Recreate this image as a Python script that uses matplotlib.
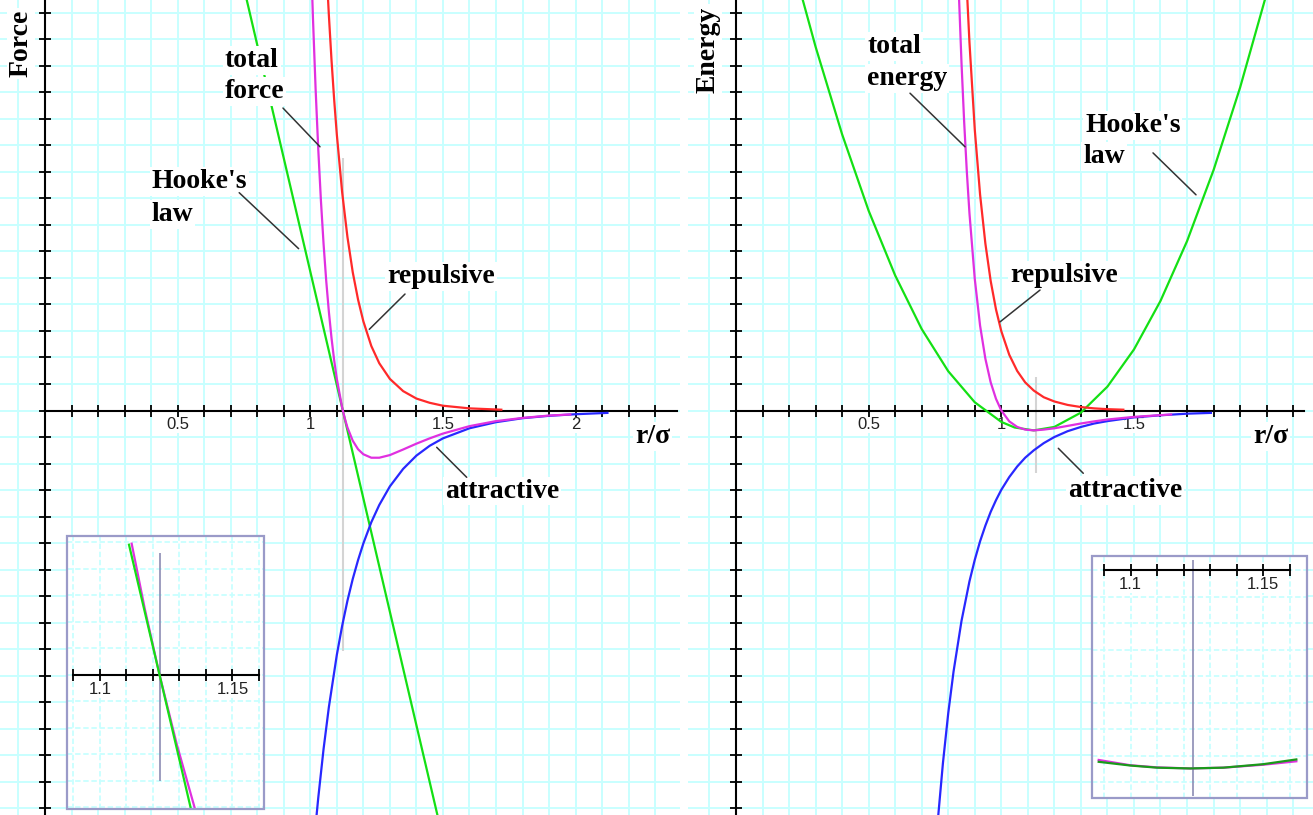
import matplotlib.pyplot as plt
import numpy as np
from matplotlib.patches import Rectangle
from matplotlib.ticker import FuncFormatter

# ---------------------------------------------------------------------------
# Values.  r is in units of sigma, y in grid divisions.
# ---------------------------------------------------------------------------

# force panel
force_rep_r = [1.06, 1.07, 1.08, 1.09, 1.10, 1.12, 1.14, 1.16, 1.18, 1.20,
               1.23, 1.26, 1.30, 1.35, 1.40, 1.45, 1.50, 1.60, 1.72]
force_rep = [16.83, 14.90, 13.20, 11.71, 10.40, 8.23, 6.54, 5.21, 4.18, 3.36,
             2.43, 1.78, 1.19, 0.73, 0.45, 0.29, 0.18, 0.08, 0.03]

force_att_r = [1.02, 1.03, 1.05, 1.07, 1.10, 1.12, 1.14, 1.16, 1.18, 1.20,
               1.23, 1.26, 1.30, 1.35, 1.40, 1.45, 1.50, 1.60, 1.70, 1.80,
               1.90, 2.00, 2.12]
force_att = [-15.63, -14.60, -12.76, -11.18, -9.21, -8.12, -7.17, -6.35,
             -5.64, -5.01, -4.21, -3.56, -2.86, -2.20, -1.70, -1.33, -1.05,
             -0.67, -0.44, -0.29, -0.20, -0.14, -0.09]

force_tot_r = [1.005, 1.01, 1.02, 1.03, 1.04, 1.05, 1.06, 1.07, 1.08, 1.09,
               1.10, 1.12, 1.13, 1.14, 1.16, 1.18, 1.20, 1.23, 1.26, 1.30,
               1.35, 1.40, 1.45, 1.50, 1.60, 1.70, 1.80, 1.90, 1.98]
force_tot = [16.32, 14.80, 12.12, 9.85, 7.92, 6.28, 4.89, 3.72, 2.73, 1.89,
             1.19, 0.11, -0.30, -0.64, -1.14, -1.46, -1.65, -1.78, -1.78,
             -1.68, -1.47, -1.25, -1.05, -0.87, -0.59, -0.40, -0.28, -0.19,
             -0.15]

force_hooke_r = [0.75, 1.1225, 1.50]
force_hooke = [15.92, 0.0, -16.14]

# energy panel
energy_rep_r = [0.87, 0.88, 0.90, 0.92, 0.94, 0.96, 0.98, 1.00, 1.03, 1.06,
                1.09, 1.1225, 1.16, 1.20, 1.25, 1.30, 1.35, 1.40, 1.46]
energy_rep = [15.91, 13.87, 10.59, 8.14, 6.29, 4.88, 3.81, 2.99, 2.10, 1.49,
              1.06, 0.75, 0.50, 0.34, 0.21, 0.13, 0.08, 0.05, 0.03]

energy_att_r = [0.76, 0.78, 0.80, 0.82, 0.85, 0.88, 0.90, 0.92, 0.94, 0.96,
                0.98, 1.00, 1.03, 1.06, 1.09, 1.1225, 1.16, 1.20, 1.25, 1.30,
                1.35, 1.40, 1.50, 1.60, 1.70, 1.79]
energy_att = [-15.53, -13.29, -11.41, -9.84, -7.93, -6.44, -5.63, -4.93,
              -4.34, -3.82, -3.38, -2.99, -2.51, -2.11, -1.78, -1.50, -1.23,
              -1.00, -0.78, -0.62, -0.49, -0.40, -0.26, -0.18, -0.12, -0.09]

energy_tot_r = [0.835, 0.84, 0.85, 0.86, 0.87, 0.88, 0.90, 0.92, 0.94, 0.96,
                0.98, 1.00, 1.03, 1.06, 1.09, 1.1225, 1.16, 1.20, 1.25, 1.30,
                1.35, 1.40, 1.50, 1.64]
energy_tot = [17.22, 15.73, 13.10, 10.88, 9.01, 7.43, 4.96, 3.20, 1.95, 1.06,
              0.44, 0.00, -0.41, -0.62, -0.72, -0.75, -0.72, -0.67, -0.58,
              -0.49, -0.41, -0.34, -0.24, -0.15]

energy_hooke_r = [0.24, 0.30, 0.40, 0.50, 0.60, 0.70, 0.80, 0.90, 1.00, 1.05,
                  1.1225, 1.20, 1.30, 1.40, 1.50, 1.60, 1.70, 1.80, 1.90, 2.00]
energy_hooke = [15.90, 13.71, 10.41, 7.53, 5.09, 3.07, 1.48, 0.31, -0.43,
                -0.64, -0.75, -0.62, -0.08, 0.90, 2.30, 4.13, 6.38, 9.06,
                12.17, 15.71]

# zoomed insets (10x)
zoom_force_hooke_r = [1.1110, 1.1225, 1.1342]
zoom_force_hooke = [0.49, 0.0, -0.50]
zoom_force_tot_r = [1.112, 1.117, 1.1225, 1.129, 1.1357]
zoom_force_tot = [0.494, 0.246, 0.0, -0.262, -0.500]

zoom_energy_r = [1.088, 1.10, 1.11, 1.1225, 1.135, 1.15, 1.1625]
zoom_energy_hooke = [-0.723, -0.737, -0.745, -0.748, -0.745, -0.732, -0.714]
zoom_energy_tot = [-0.716, -0.736, -0.744, -0.748, -0.745, -0.734, -0.721]

r_min = 1.1225  # equilibrium separation marker

# ---------------------------------------------------------------------------
# Layout / style
# ---------------------------------------------------------------------------

W, H = 1313, 815
PX = 265.3          # pixels per unit of r/sigma
GY = PX / 10        # pixels per grid division
AXIS_Y = 410.5      # pixel row of the r axis

RED = "#ff2a2a"
MAGENTA = "#e030e0"
GREEN = "#14e014"
BLUE = "#2828ff"
GRID = "#c8ffff"
LEADER = "#333333"
FRAME = "#9a9ac8"
MARK = "#d4d4d4"

SERIF = dict(family="Liberation Serif", weight="bold", size=20)
WHITE = dict(facecolor="white", edgecolor="none", pad=1.5)

plt.rcParams["font.family"] = "Liberation Sans"


def style_axis(ax, major, minor, x_end):
    for side in ("top", "right"):
        ax.spines[side].set_visible(False)
    ax.spines["left"].set_position(("data", 0))
    ax.spines["bottom"].set_position(("data", 0))
    ax.spines["bottom"].set_bounds(0, x_end)
    for side in ("left", "bottom"):
        ax.spines[side].set_linewidth(1.5)
        ax.spines[side].set_zorder(2.5)
    ax.set_xticks(major)
    ax.set_xticks(minor, minor=True)
    ax.xaxis.set_major_formatter(FuncFormatter(lambda v, _: f"{v:g}"))
    ax.tick_params(which="both", direction="inout", length=9, width=1.3)
    ax.tick_params(axis="x", labelsize=12, pad=0.5, labelcolor="#222222")
    for lbl in ax.get_xticklabels():
        lbl.set_bbox(dict(facecolor="white", edgecolor="none", pad=0.5))


def panel(fig, left_px, right_px, origin_px, x_end, major, minor):
    ax = fig.add_axes([left_px / W, 0, (right_px - left_px) / W, 1])
    ax.set_xlim((left_px - origin_px) / PX, (right_px - origin_px) / PX)
    ax.set_ylim(-(H - AXIS_Y) / GY, AXIS_Y / GY)
    x0, x1 = ax.get_xlim()
    y0, y1 = ax.get_ylim()
    ax.vlines(np.arange(np.ceil(x0 * 10), x1 * 10) / 10, y0, y1,
              colors=GRID, lw=1.4, zorder=0)
    ax.hlines(np.arange(np.ceil(y0), y1), x0, x1, colors=GRID, lw=1.4,
              zorder=0)
    style_axis(ax, major, minor, x_end)
    ax.set_yticks(np.arange(-15, 16))
    ax.set_yticklabels([])
    return ax


def inset(fig, box_px, x_left, y_top, y_grid):
    l, t, r, b = box_px
    ax = fig.add_axes([l / W, 1 - b / H, (r - l) / W, (b - t) / H])
    ax.set_zorder(5)
    ax.set_xlim(x_left, x_left + (r - l) / (10 * PX))
    ax.set_ylim(y_top - (b - t) / (10 * GY), y_top)
    x0, x1 = ax.get_xlim()
    y0, y1 = ax.get_ylim()
    ax.vlines(np.arange(1.09, 1.165, 0.01), y0, y1, colors=GRID, lw=1.3,
              linestyles=(0, (3, 1.5)), zorder=0)
    ax.hlines(y_grid, x0, x1, colors=GRID, lw=1.3,
              linestyles=(0, (3, 1.5)), zorder=0)
    style_axis(ax, [1.1, 1.15], np.arange(1.09, 1.165, 0.01), 1.16)
    ax.spines["left"].set_visible(False)
    ax.set_yticks([])
    ax.spines["bottom"].set_bounds(1.09, 1.16)
    ax.add_patch(Rectangle((0, 0), 1, 1, transform=ax.transAxes, fill=False,
                           edgecolor=FRAME, lw=1.6, clip_on=False, zorder=6))
    return ax


def curve(ax, r, y, color, z=3):
    ax.plot(r, y, color=color, lw=1.6, zorder=z, solid_joinstyle="round")


def label(ax, x, y, text):
    ax.text(x, y, text, fontdict=SERIF, ha="left", va="baseline",
            bbox=WHITE, zorder=6)


def leader(ax, start, end):
    ax.annotate("", xy=end, xytext=start, zorder=6,
                arrowprops=dict(arrowstyle="-", color=LEADER, lw=1.1,
                                shrinkA=0, shrinkB=0))


fig = plt.figure(figsize=(W / 100, H / 100), dpi=100, facecolor="white")

# ---------------------------------------------------------------------------
# Left: force
# ---------------------------------------------------------------------------

axf = panel(fig, 0, 680, 45, 2.381, [0.5, 1, 1.5, 2],
            np.arange(0.1, 2.35, 0.1))
axf.vlines(r_min, -9.05, 9.5, colors=MARK, lw=1.5, zorder=1)
curve(axf, force_hooke_r, force_hooke, GREEN)
curve(axf, force_att_r, force_att, BLUE)
curve(axf, force_rep_r, force_rep, RED)
curve(axf, force_tot_r, force_tot, MAGENTA)

axf.text(-0.0905, 13.83, "Force", fontdict=SERIF, rotation=90,
         ha="center", va="center", bbox=WHITE, zorder=6)
label(axf, 0.678, 12.95, "total")
label(axf, 0.678, 11.78, "force")
leader(axf, (0.897, 11.40), (1.0366, 9.94))
label(axf, 0.403, 8.37, "Hooke's")
label(axf, 0.403, 7.14, "law")
leader(axf, (0.732, 8.21), (0.956, 6.10))
label(axf, 1.290, 4.82, "repulsive")
leader(axf, (1.357, 4.39), (1.2224, 3.06))
label(axf, 1.508, -3.28, "attractive")
leader(axf, (1.5895, -2.518), (1.4764, -1.387))
label(axf, 2.224, -1.225, "r/\u03c3")

axfi = inset(fig, (67, 536, 264, 809), 1.08763, 0.5228,
             np.arange(-5, 6) / 10)
axfi.vlines(r_min, -0.40, 0.46, colors="#8c8cb4", lw=1.2, zorder=1)
curve(axfi, zoom_force_tot_r, zoom_force_tot, MAGENTA)
curve(axfi, zoom_force_hooke_r, zoom_force_hooke, GREEN)

# ---------------------------------------------------------------------------
# Right: energy
# ---------------------------------------------------------------------------

axe = panel(fig, 688, 1313, 736, 2.14, [0.5, 1, 1.5],
            np.arange(0.1, 2.15, 0.1))
axe.vlines(1.13, -2.36, 1.27, colors=MARK, lw=1.5, zorder=1)
curve(axe, energy_hooke_r, energy_hooke, GREEN)
curve(axe, energy_att_r, energy_att, BLUE)
curve(axe, energy_rep_r, energy_rep, RED)
curve(axe, energy_tot_r, energy_tot, MAGENTA)

axe.text(-0.1055, 13.61, "Energy", fontdict=SERIF, rotation=90,
         ha="center", va="center", bbox=WHITE, zorder=6)
label(axe, 0.494, 13.46, "total")
label(axe, 0.494, 12.27, "energy")
leader(axe, (0.6559, 11.96), (0.8632, 9.94))
label(axe, 1.3155, 10.50, "Hooke's")
label(axe, 1.308, 9.33, "law")
leader(axe, (1.5718, 9.71), (1.7339, 8.13))
label(axe, 1.033, 4.84, "repulsive")
leader(axe, (1.1459, 4.54), (0.9951, 3.34))
label(axe, 1.2514, -3.26, "attractive")
leader(axe, (1.309, -2.367), (1.2149, -1.425))
label(axe, 1.9487, -1.225, "r/\u03c3")

axei = inset(fig, (1092, 556, 1307, 798), 1.08548, 0.0528,
             -np.arange(0, 9) / 10)
axei.vlines(1.1235, -0.852, 0.0377, colors="#8c8cb4", lw=1.2, zorder=1)
curve(axei, zoom_energy_r, zoom_energy_tot, MAGENTA)
curve(axei, zoom_energy_r, zoom_energy_hooke, "#1a9a1a")

fig.savefig("out.png", dpi=100, facecolor="white")
